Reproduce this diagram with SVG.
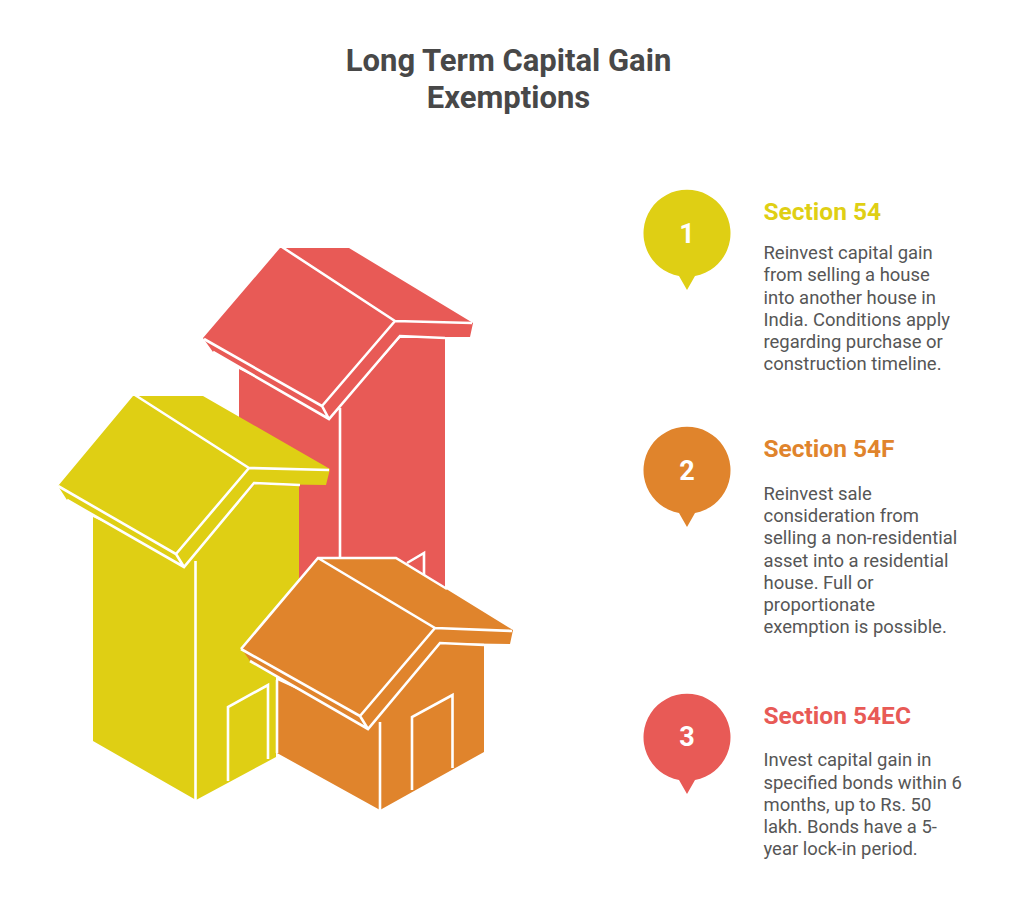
<svg xmlns="http://www.w3.org/2000/svg" width="1024" height="897" viewBox="0 0 1024 897">
<style>
text{font-family:Roboto,"Liberation Sans",sans-serif}
.t{font-size:31px;font-weight:700;fill:#484848;text-anchor:middle}
.h{font-size:24.5px;font-weight:700}
.b{font-size:18.45px;fill:#565656}
.n{font-size:27px;font-weight:700;fill:#fff;text-anchor:middle}
.l{fill:none;stroke:#fff;stroke-width:2.6;stroke-linejoin:miter}
.r{fill:#e85a56}.y{fill:#dfcf14}.o{fill:#e0842c}
</style>
<rect width="1024" height="897" fill="#fff"/>
<g id="title"><text class="t" x="508.500" y="70.500">Long Term Capital Gain</text><text class="t" x="508.500" y="107.500">Exemptions</text></g>
<g id="house-red">
<path class="r" d="M239 369L239 600L445 600L445 338L400 338L329 419L322 410Z"/>
<path class="r" d="M280 248L349 248L473 323L470 337L400 337L329 419L213 352L203 338Z"/>
<path class="l" d="M282 247L395 321L472 323M204 339L322 406L329 419M213 352L329 419L400 336L445 338M322 406L395 321M340 408V560M407 563L424 553V576"/>
</g>
<g id="house-yellow">
<path class="y" d="M93 517L93 741L196 800L276 757L276 660L299 640L299 486L255 484L184 566L176 556Z"/>
<path class="y" d="M133 396L203 396L330 469L326 485L254 484L184 567L67 500L58 486Z"/>
<path class="l" d="M135 395L249 468L329 470M58 486L176 554L184 567M67 500L184 567L254 483L300 485M176 554L249 468M195.500 561V800M228 781V707L268 685V759"/>
</g>
<g id="house-orange">
<path class="o" d="M277 680L277 753L380 810L484 752L484 645L441 643L368 729L360 718Z"/>
<path class="o" d="M318 558L396 558L513 630L510 644L440 643L368 729L250 661L241 648Z"/>
<path class="l" d="M241 649L318 558L396 558L447 589M318 558L435 628L512 631M241 649L360 716L368 729M250 661L368 729L440 643L484 645M360 716L435 628M380 722V810M412 790V717L452.500 695V768M277 680V753"/>
</g>
<g id="item-1">
<path class="y" d="M679 276A43.500 43.500 0 1 1 695 276L687 290Z"/>
<text class="n" x="687" y="243">1</text>
<text class="h" x="763.500" y="219.700" fill="#dfcf14">Section 54</text>
<text class="b"><tspan x="763.500" y="258.700">Reinvest capital gain</tspan><tspan x="763.500" y="280.700">from selling a house</tspan><tspan x="763.500" y="303.700">into another house in</tspan><tspan x="763.500" y="325.700">India. Conditions apply</tspan><tspan x="763.500" y="347.700">regarding purchase or</tspan><tspan x="763.500" y="369.700">construction timeline.</tspan></text>
</g>
<g id="item-2">
<path class="o" d="M679 513A43.500 43.500 0 1 1 695 513L687 527Z"/>
<text class="n" x="687" y="480">2</text>
<text class="h" x="763.500" y="456.700" fill="#e0842c">Section 54F</text>
<text class="b"><tspan x="763.500" y="499.700">Reinvest sale</tspan><tspan x="763.500" y="521.700">consideration from</tspan><tspan x="763.500" y="543.700">selling a non-residential</tspan><tspan x="763.500" y="566.700">asset into a residential</tspan><tspan x="763.500" y="588.700">house. Full or</tspan><tspan x="763.500" y="610.700">proportionate</tspan><tspan x="763.500" y="632.700">exemption is possible.</tspan></text>
</g>
<g id="item-3">
<path class="r" d="M679 780A43.500 43.500 0 1 1 695 780L687 794Z"/>
<text class="n" x="687" y="746">3</text>
<text class="h" x="763.500" y="723.700" fill="#e85a56">Section 54EC</text>
<text class="b"><tspan x="763.500" y="765.700">Invest capital gain in</tspan><tspan x="763.500" y="788.700">specified bonds within 6</tspan><tspan x="763.500" y="810.700">months, up to Rs. 50</tspan><tspan x="763.500" y="832.700">lakh. Bonds have a 5-</tspan><tspan x="763.500" y="854.700">year lock-in period.</tspan></text>
</g>
</svg>
